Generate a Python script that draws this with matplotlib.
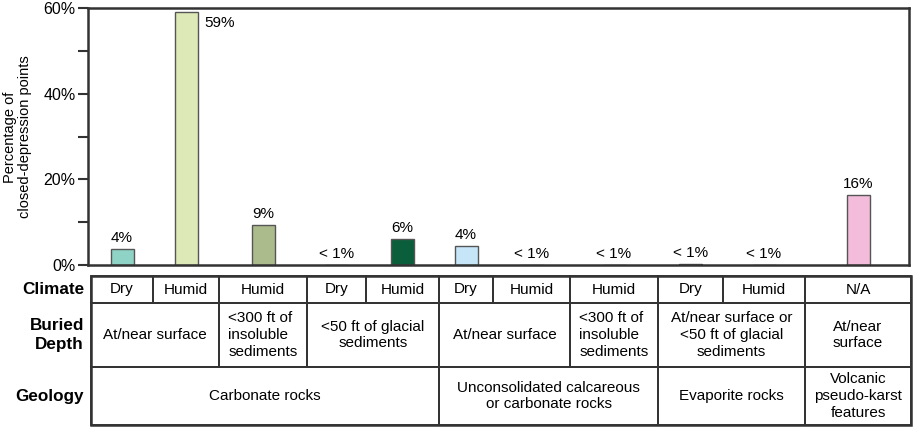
import matplotlib.pyplot as plt
from matplotlib.patches import Rectangle
from matplotlib.ticker import MultipleLocator, FuncFormatter

plt.rcParams['font.family'] = ['Liberation Sans', 'DejaVu Sans']

# data
values = [3.8, 59, 9.3, 0, 6.1, 4.4, 0, 0, 0.3, 0, 16.3]
labels = ['4%', '59%', '9%', '< 1%', '6%', '4%', '< 1%', '< 1%', '< 1%', '< 1%', '16%']
colors = ['#8fd3c7', '#dde9b6', '#abbb8b', '#ffffff', '#0a5e3c', '#c6e6f8',
          '#ffffff', '#ffffff', '#4a4a4a', '#ffffff', '#f2bcda']
climate = ['Dry', 'Humid', 'Humid', 'Dry', 'Humid', 'Dry', 'Humid', 'Humid', 'Dry', 'Humid', 'N/A']
depth = [((0, 1), 'At/near surface'),
         ((2, 2), '<300 ft of\ninsoluble\nsediments'),
         ((3, 4), '<50 ft of glacial\nsediments'),
         ((5, 6), 'At/near surface'),
         ((7, 7), '<300 ft of\ninsoluble\nsediments'),
         ((8, 9), 'At/near surface or\n<50 ft of glacial\nsediments'),
         ((10, 10), 'At/near\nsurface')]
geology = [((0, 4), 'Carbonate rocks'),
           ((5, 7), 'Unconsolidated calcareous\nor carbonate rocks'),
           ((8, 9), 'Evaporite rocks'),
           ((10, 10), 'Volcanic\npseudo-karst\nfeatures')]
row_names = ['Climate', 'Buried\nDepth', 'Geology']

# layout (pixels)
W, H = 913, 428
edges = [91, 153, 219, 307, 366, 439, 493, 570, 658, 723, 805, 911]
rows = [276, 303, 367, 425]
centers = [(a + b) / 2 for a, b in zip(edges[:-1], edges[1:])]
dark = '#333333'

fig = plt.figure(figsize=(W / 100, H / 100), dpi=100)

ax = fig.add_axes([88 / W, (H - 265) / H, (909 - 88) / W, (265 - 8) / H])
ax.bar(centers, values, width=23, color=colors, edgecolor='#555555', linewidth=1)
ax.set_xlim(88, 909)
ax.set_ylim(0, 60)
ax.yaxis.set_major_locator(MultipleLocator(20))
ax.yaxis.set_minor_locator(MultipleLocator(10))
ax.yaxis.set_major_formatter(FuncFormatter(lambda v, p: '%d%%' % v))
ax.tick_params(axis='y', which='both', length=7, width=1.5, color=dark, labelsize=11.5, pad=2)
ax.tick_params(axis='x', bottom=False, labelbottom=False)
for s in ax.spines.values():
    s.set_linewidth(1.8)
    s.set_color(dark)
fig.text(17.5 / W, 1 - 137 / H, 'Percentage of\nclosed-depression points', rotation=90,
         ha='center', va='center', fontsize=10.5, linespacing=1.15)

for i, (v, lab) in enumerate(zip(values, labels)):
    if i == 1:
        ax.annotate(lab, (centers[i] + 11.5, v), xytext=(5, -3), textcoords='offset points',
                    ha='left', va='top', fontsize=11)
    else:
        ax.annotate(lab, (centers[i], v), xytext=(0, 3), textcoords='offset points',
                    ha='center', va='bottom', fontsize=11)

# table
tb = fig.add_axes([0, 0, 1, 1])
tb.set_xlim(0, W)
tb.set_ylim(H, 0)
tb.axis('off')


def cell(c0, c1, r, text):
    x0, x1 = edges[c0], edges[c1 + 1]
    y0, y1 = rows[r], rows[r + 1]
    tb.add_patch(Rectangle((x0, y0), x1 - x0, y1 - y0, fill=False, edgecolor=dark, linewidth=1.3))
    tb.text((x0 + x1) / 2, (y0 + y1) / 2, text, ha='center', va='center', fontsize=11,
            linespacing=1.25, multialignment='left' if '300' in text else 'center')


for i, c in enumerate(climate):
    cell(i, i, 0, c)
for (a, b), t in depth:
    cell(a, b, 1, t)
for (a, b), t in geology:
    cell(a, b, 2, t)

tb.add_patch(Rectangle((edges[0], rows[0]), edges[-1] - edges[0], rows[-1] - rows[0],
                       fill=False, edgecolor=dark, linewidth=1.8))
for r, name in enumerate(row_names):
    tb.text(84, (rows[r] + rows[r + 1]) / 2, name, ha='right', va='center', fontsize=12.3,
            fontweight='bold', linespacing=1.4)

fig.savefig('out.png', dpi=100)
